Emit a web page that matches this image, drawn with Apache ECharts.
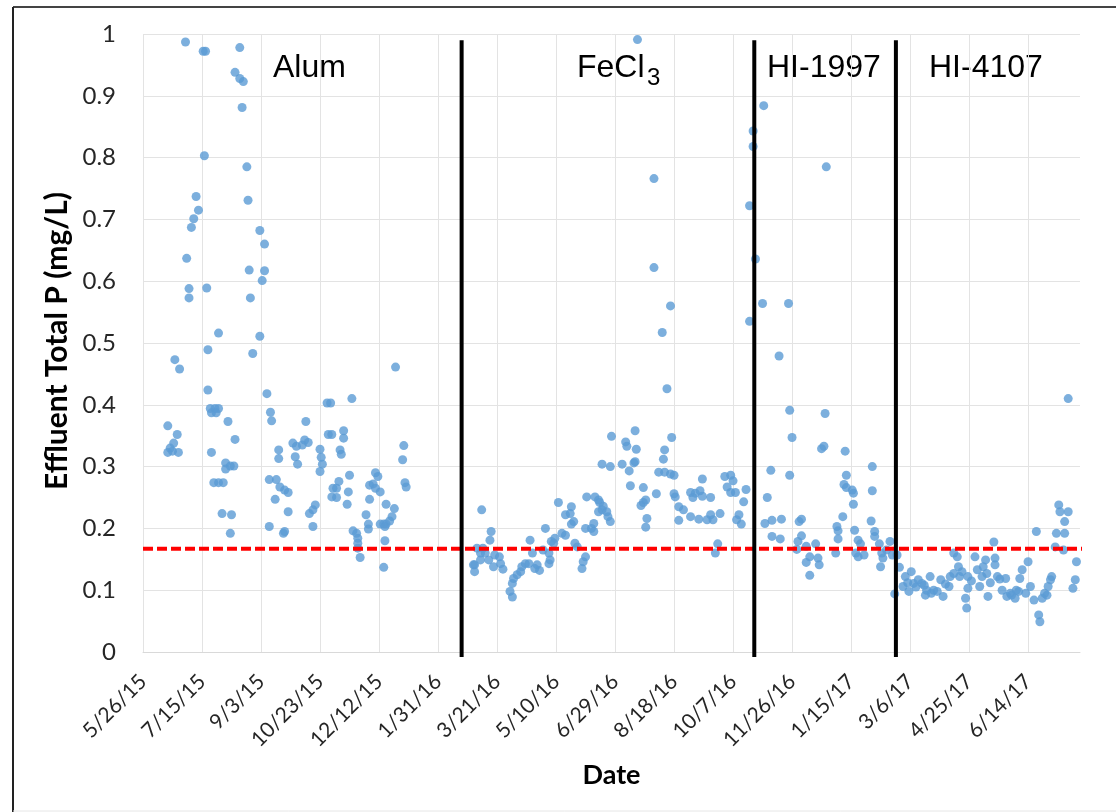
<!DOCTYPE html>
<html>
<head>
<meta charset="utf-8">
<script src="https://cdn.jsdelivr.net/npm/echarts@6/dist/echarts.min.js"></script>
<style>
  html, body { margin: 0; padding: 0; background: #fff; }
  #chart { width: 1116px; height: 812px; }
</style>
</head>
<body>
<div id="chart"></div>
<script>
// x values are days since 5/26/15, y values are effluent total P in mg/L
const START = Date.UTC(2015, 4, 26)
const X_MAX = 794
const TICK_DAYS = 50

const alum = [[36,0.987],[51,0.972],[53,0.972],[82,0.978],[78,0.938],[82,0.928],[85,0.923],[84,0.881],[52,0.803],[88,0.785],
  [45,0.737],[47,0.715],[43,0.701],[41,0.687],[89,0.731],[99,0.682],[103,0.660],[37,0.637],[90,0.618],[103,0.617],
  [101,0.601],[39,0.588],[54,0.589],[39,0.573],[91,0.573],[64,0.516],[99,0.511],[55,0.489],[93,0.483],[27,0.473],
  [31,0.458],[214,0.461],[55,0.424],[105,0.418],[177,0.410],[156,0.403],[159,0.403],[57,0.394],[61,0.394],[64,0.394],
  [58,0.387],[62,0.387],[108,0.388],[109,0.374],[72,0.373],[138,0.373],[21,0.366],[29,0.352],[157,0.352],[160,0.352],
  [170,0.358],[170,0.346],[78,0.344],[127,0.338],[130,0.333],[137,0.343],[140,0.339],[135,0.335],[26,0.338],[23,0.330],
  [21,0.323],[25,0.325],[30,0.323],[58,0.323],[115,0.327],[115,0.313],[150,0.328],[151,0.315],[167,0.327],[168,0.320],
  [129,0.316],[131,0.304],[152,0.304],[150,0.292],[70,0.306],[74,0.301],[77,0.301],[70,0.296],[175,0.286],[197,0.290],
  [199,0.284],[107,0.279],[113,0.279],[60,0.274],[64,0.274],[68,0.274],[166,0.276],[164,0.265],[192,0.270],[195,0.272],
  [197,0.265],[201,0.259],[116,0.267],[120,0.262],[123,0.258],[161,0.265],[160,0.251],[164,0.250],[174,0.259],[112,0.247],
  [192,0.247],[173,0.239],[146,0.238],[144,0.230],[141,0.224],[206,0.239],[213,0.232],[123,0.227],[67,0.224],[75,0.222],
  [189,0.222],[211,0.219],[209,0.212],[206,0.207],[204,0.207],[201,0.207],[205,0.203],[107,0.203],[144,0.203],[191,0.207],
  [191,0.199],[74,0.192],[119,0.192],[120,0.195],[178,0.196],[181,0.192],[182,0.184],[182,0.176],[182,0.168],[184,0.153],
  [205,0.180],[204,0.137],[221,0.334],[220,0.311],[222,0.274],[223,0.267]]

const fecl3 = [[287,0.230],[295,0.195],[294,0.181],[283,0.168],[288,0.168],[286,0.160],[290,0.160],[281,0.141],[280,0.141],[281,0.130],
  [286,0.149],[293,0.149],[298,0.157],[302,0.154],[303,0.143],[297,0.138],[305,0.134],[328,0.181],[330,0.160],[327,0.143],
  [324,0.143],[321,0.138],[320,0.130],[317,0.125],[314,0.119],[313,0.111],[311,0.098],[313,0.089],[334,0.141],[332,0.135],
  [336,0.132],[341,0.200],[339,0.165],[344,0.160],[345,0.149],[344,0.143],[346,0.179],[349,0.184],[355,0.192],[358,0.189],
  [348,0.176],[352,0.242],[363,0.235],[362,0.224],[358,0.222],[365,0.211],[363,0.207],[366,0.176],[368,0.170],[375,0.154],
  [373,0.146],[372,0.135],[376,0.251],[383,0.251],[386,0.246],[387,0.242],[390,0.236],[389,0.230],[386,0.227],[393,0.227],
  [394,0.219],[396,0.211],[375,0.200],[380,0.200],[382,0.208],[382,0.195],[389,0.304],[396,0.300],[397,0.349],[406,0.304],
  [412,0.293],[409,0.340],[410,0.333],[418,0.328],[417,0.308],[416,0.306],[417,0.358],[413,0.269],[424,0.266],[426,0.246],
  [424,0.242],[422,0.237],[427,0.216],[426,0.202],[435,0.256],[440,0.517],[444,0.426],[448,0.347],[442,0.327],[441,0.312],
  [437,0.291],[442,0.291],[447,0.288],[450,0.286],[450,0.256],[451,0.251],[454,0.235],[458,0.230],[454,0.213],[464,0.219],
  [471,0.215],[478,0.214],[481,0.222],[483,0.214],[489,0.224],[464,0.258],[468,0.257],[472,0.261],[474,0.252],[466,0.250],
  [481,0.250],[474,0.280],[493,0.284],[498,0.286],[500,0.277],[495,0.267],[498,0.258],[502,0.258],[511,0.263],[509,0.243],
  [505,0.222],[503,0.214],[507,0.207],[487,0.175],[485,0.160],[514,0.535],[419,0.991],[517,0.843],[517,0.818],[433,0.766],
  [514,0.722],[433,0.622],[447,0.560]]

const hi1997 = [[519,0.636],[526,0.884],[525,0.564],[547,0.564],[579,0.785],[539,0.479],[548,0.391],[550,0.347],[578,0.386],[577,0.333],
  [575,0.329],[595,0.325],[532,0.294],[548,0.286],[618,0.300],[596,0.286],[594,0.271],[596,0.266],[601,0.262],[602,0.257],
  [602,0.239],[618,0.261],[529,0.250],[527,0.208],[533,0.213],[541,0.215],[533,0.187],[540,0.183],[558,0.215],[556,0.211],
  [558,0.188],[555,0.179],[554,0.166],[562,0.171],[570,0.175],[565,0.154],[562,0.145],[572,0.152],[573,0.141],[565,0.124],
  [587,0.160],[588,0.203],[589,0.196],[589,0.183],[593,0.219],[603,0.197],[606,0.181],[608,0.175],[604,0.160],[606,0.154],
  [611,0.157],[617,0.212],[620,0.195],[620,0.187],[624,0.175],[626,0.160],[627,0.152],[625,0.138],[630,0.165],[633,0.179],
  [635,0.157]]

const hi4107 = [[639,0.157],[641,0.137],[637,0.094],[646,0.122],[651,0.130],[644,0.106],[649,0.098],[653,0.111],[657,0.117],[660,0.111],
  [663,0.092],[664,0.100],[667,0.122],[668,0.095],[676,0.117],[678,0.090],[683,0.106],[684,0.122],[687,0.127],[691,0.138],
  [692,0.122],[687,0.160],[690,0.154],[697,0.087],[698,0.071],[699,0.122],[699,0.103],[705,0.154],[707,0.133],[709,0.106],
  [711,0.122],[712,0.138],[714,0.149],[716,0.090],[715,0.127],[721,0.178],[722,0.152],[722,0.141],[724,0.122],[728,0.100],
  [731,0.119],[732,0.090],[735,0.095],[739,0.087],[740,0.100],[743,0.119],[745,0.133],[748,0.095],[750,0.146],[752,0.106],
  [755,0.084],[757,0.195],[759,0.060],[760,0.049],[762,0.087],[766,0.092],[767,0.106],[769,0.117],[770,0.122],[773,0.170],
  [774,0.192],[776,0.238],[777,0.227],[781,0.192],[781,0.211],[784,0.227],[780,0.165],[784,0.410],[788,0.103],[790,0.117],
  [791,0.146],[648,0.112],[655,0.105],[662,0.108],[670,0.100],[673,0.098],[680,0.110],[694,0.130],[702,0.115],[718,0.112],
  [726,0.118],[736,0.092],[742,0.098],[764,0.095]]

// treatment change dates (days) and the effluent target line
const phaseBreaks = [270, 518, 638]
const targetP = 0.167
const targetSpan = [0, 800]
const breakSpan = [-0.008, 0.99]

const dayToLabel = (d) => {
  const dt = new Date(START + d * 86400000)
  return (dt.getUTCMonth() + 1) + '/' + dt.getUTCDate() + '/' + String(dt.getUTCFullYear()).slice(2)
}

const chart = echarts.init(document.getElementById('chart'))

const pointStyle = { color: '#5b9bd5' }
const scatterSeries = [alum, fecl3, hi1997, hi4107].map(d => ({
  type: 'scatter',
  data: d,
  symbolSize: 9,
  itemStyle: pointStyle,
  z: 2
}))

const breakSeries = phaseBreaks.map(x => ({
  type: 'line',
  data: [[x, breakSpan[0]], [x, breakSpan[1]]],
  symbol: 'none',
  clip: false,
  lineStyle: { color: '#000', width: 4 },
  z: 4
}))

chart.setOption({
  animation: false,
  grid: {
    left: 143,
    right: 36,
    top: 34,
    bottom: 160,
    containLabel: false,
    outerBoundsMode: 'none'
  },
  xAxis: {
    type: 'value',
    min: 0,
    max: X_MAX,
    interval: TICK_DAYS,
    name: 'Date',
    nameLocation: 'middle',
    nameGap: 110,
    nameTextStyle: { fontFamily: 'Lato', fontWeight: 'bold', fontSize: 27, color: '#000' },
    axisLine: { show: true, lineStyle: { color: '#d9d9d9', width: 1 } },
    axisTick: { show: false },
    axisLabel: {
      rotate: 45,
      margin: 26,
      fontFamily: 'Lato',
      fontSize: 21,
      color: '#262626',
      showMaxLabel: false,
      formatter: dayToLabel
    },
    splitLine: { show: true, showMaxLine: false, lineStyle: { color: '#e3e3e3', width: 1 } }
  },
  yAxis: {
    type: 'value',
    min: 0,
    max: 1,
    interval: 0.1,
    axisLine: { show: false },
    axisTick: { show: false },
    axisLabel: { margin: 27, fontFamily: 'Lato', fontSize: 24, color: '#262626' },
    splitLine: { show: true, lineStyle: { color: '#e3e3e3', width: 1 } }
  },
  graphic: [
    { type: 'line', shape: { x1: 13, y1: 7, x2: 1116, y2: 7 }, style: { stroke: '#444', lineWidth: 2 } },
    { type: 'line', shape: { x1: 13, y1: 7, x2: 13, y2: 812 }, style: { stroke: '#222', lineWidth: 2 } },
    { type: 'line', shape: { x1: 13, y1: 811, x2: 1116, y2: 811 }, style: { stroke: '#e6e6e6', lineWidth: 1 } },
    {
      type: 'text', x: 57, y: 341, rotation: Math.PI / 2,
      style: { text: 'Effluent Total P (mg/L)', font: 'bold 30px Lato', fill: '#000', align: 'center', verticalAlign: 'middle' }
    },
    { type: 'text', left: 273, top: 52, style: { text: 'Alum', font: '32px "Liberation Sans"', fill: '#000' } },
    { type: 'text', left: 577, top: 52, style: { text: 'FeCl', font: '32px "Liberation Sans"', fill: '#000' } },
    { type: 'text', left: 647, top: 66, style: { text: '3', font: '24px "Liberation Sans"', fill: '#000' } },
    { type: 'text', left: 767, top: 52, style: { text: 'HI-1997', font: '32px "Liberation Sans"', fill: '#000' } },
    { type: 'text', left: 929, top: 52, style: { text: 'HI-4107', font: '32px "Liberation Sans"', fill: '#000' } }
  ],
  series: [
    ...scatterSeries,
    {
      type: 'line',
      data: [[targetSpan[0], targetP], [targetSpan[1], targetP]],
      symbol: 'none',
      clip: false,
      lineStyle: { color: '#ff0000', width: 4, type: [10, 4] },
      z: 3
    },
    ...breakSeries
  ]
})
</script>
</body>
</html>
